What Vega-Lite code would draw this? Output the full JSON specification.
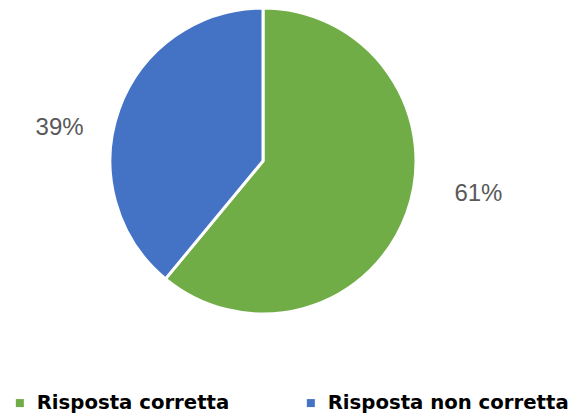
{
  "$schema": "https://vega.github.io/schema/vega-lite/v6.json",
  "width": 526,
  "height": 322,
  "autosize": {"type": "none"},
  "padding": {"left": 0, "top": 0, "right": 46, "bottom": 93},
  "background": "white",
  "config": {"view": {"stroke": null}},
  "data": {
    "values": [
      {"risposta": "Risposta corretta", "pct": 61, "label": "61%"},
      {"risposta": "Risposta non corretta", "pct": 39, "label": "39%"}
    ]
  },
  "encoding": {
    "theta": {"field": "pct", "type": "quantitative", "stack": true},
    "order": {"field": "pct", "sort": "descending"}
  },
  "layer": [
    {
      "mark": {"type": "arc", "outerRadius": 153, "stroke": "white", "strokeWidth": 3},
      "encoding": {
        "color": {
          "field": "risposta",
          "type": "nominal",
          "scale": {"domain": ["Risposta corretta", "Risposta non corretta"], "range": ["#70AD47", "#4472C4"]},
          "legend": {
            "title": null,
            "orient": "none",
            "direction": "horizontal",
            "legendX": 10,
            "legendY": 393,
            "symbolType": "square",
            "symbolSize": 64,
            "symbolStrokeWidth": 0,
            "labelFont": "DejaVu Sans",
            "labelFontWeight": "bold",
            "labelFontSize": 19.7,
            "labelColor": "#000000",
            "labelOffset": 7,
            "labelLimit": 400,
            "columnPadding": 71
          }
        }
      }
    },
    {
      "mark": {"type": "text", "radius": 212, "thetaOffset": -0.19, "dx": 6, "font": "Liberation Sans", "fontSize": 24, "fill": "#595959"},
      "encoding": {
        "text": {"field": "label"}
      }
    }
  ]
}
